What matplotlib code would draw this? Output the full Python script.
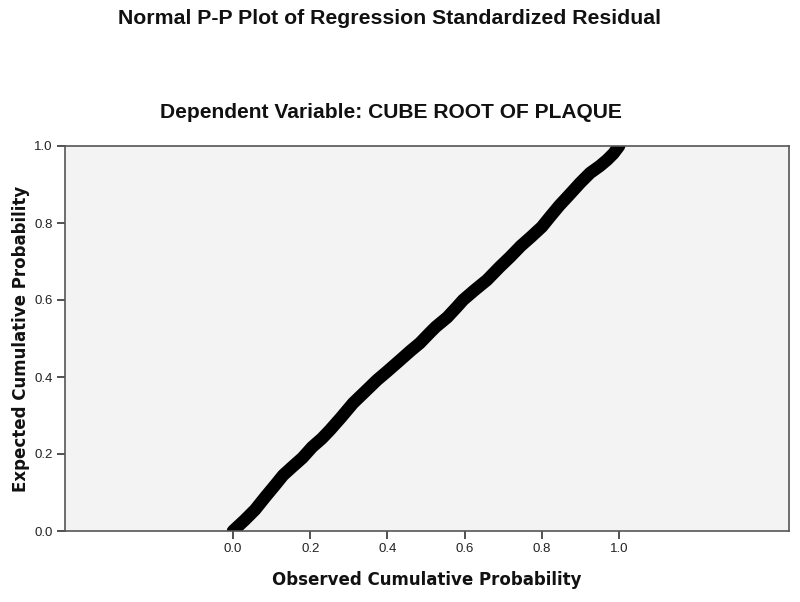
import numpy as np
import matplotlib
matplotlib.use("Agg")
import matplotlib.pyplot as plt

plt.rcParams['font.family'] = ['Liberation Sans', 'DejaVu Sans']

# observed vs expected cumulative probability
observed = [0.0, 0.03, 0.057, 0.085, 0.109, 0.13, 0.153, 0.18, 0.205, 0.23,
            0.251, 0.28, 0.311, 0.34, 0.373, 0.40, 0.433, 0.46, 0.484, 0.51,
            0.525, 0.555, 0.58, 0.596, 0.625, 0.658, 0.69, 0.718, 0.745, 0.772,
            0.80, 0.821, 0.845, 0.87, 0.90, 0.925, 0.95, 0.969, 0.985, 1.0]
expected = [0.0, 0.028, 0.055, 0.09, 0.119, 0.145, 0.166, 0.19, 0.218, 0.24,
            0.262, 0.295, 0.332, 0.36, 0.392, 0.415, 0.444, 0.468, 0.488, 0.515,
            0.530, 0.555, 0.582, 0.600, 0.625, 0.652, 0.685, 0.712, 0.74, 0.764,
            0.79, 0.816, 0.845, 0.872, 0.905, 0.930, 0.948, 0.964, 0.98, 1.0]
ticks = [0.0, 0.2, 0.4, 0.6, 0.8, 1.0]

fig = plt.figure(figsize=(8, 6.02), dpi=100)
ax = fig.add_axes([65/800, 1-531/602, 724/800, 385/602])
ax.set_facecolor('#f3f3f3')

ax.plot(observed, expected, color='black', lw=9,
        solid_capstyle='round', solid_joinstyle='round', clip_on=True)

ax.set_xlim(-0.435, 1.44)
ax.set_ylim(0, 1)
ax.set_xticks(ticks)
ax.set_yticks(ticks)
ax.set_xticklabels(['%.1f' % t for t in ticks])
ax.set_yticklabels(['%.1f' % t for t in ticks])
ax.tick_params(direction='out', length=6, width=1.2, colors='#333333',
               labelsize=9.5, labelcolor='#222222', pad=3)
for s in ax.spines.values():
    s.set_color('#555555')
    s.set_linewidth(1.2)

ax.set_xlabel('Observed Cumulative Probability', fontsize=12,
              fontweight='bold', labelpad=11, color='#111111',
              family='DejaVu Sans')
ax.set_ylabel('Expected Cumulative Probability', fontsize=12,
              fontweight='bold', labelpad=3, color='#111111',
              family='DejaVu Sans')

fig.text(390/800, 1-19/602, 'Normal P-P Plot of Regression Standardized Residual',
         ha='center', va='center', fontsize=15.3, fontweight='bold', color='#111111')
fig.text(391/800, 1-112/602, 'Dependent Variable: CUBE ROOT OF PLAQUE',
         ha='center', va='center', fontsize=15.1, fontweight='bold', color='#111111')

fig.savefig('out.png', dpi=100)
